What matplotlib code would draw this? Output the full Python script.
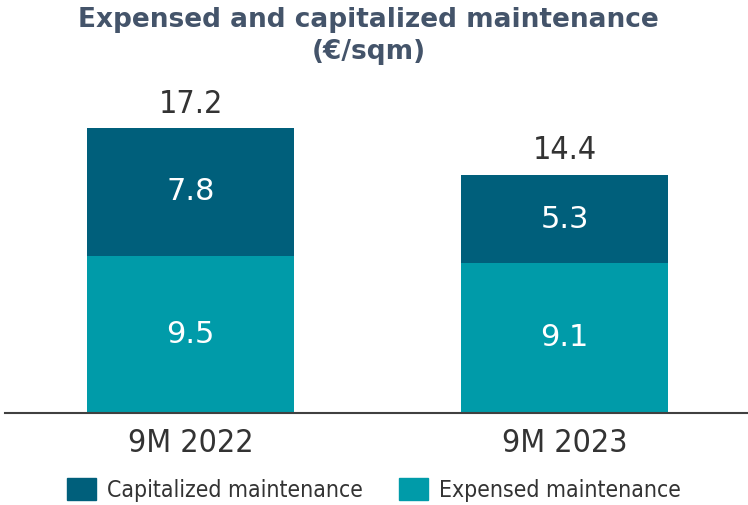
import matplotlib.pyplot as plt
from matplotlib.patches import Patch

periods = ["9M 2022", "9M 2023"]
expensed = [9.5, 9.1]
capitalized = [7.8, 5.3]
totals = [17.2, 14.4]

DARK = "#005F7B"
LIGHT = "#009BA9"
TITLE_C = "#44546A"
TEXT_C = "#333333"

fig = plt.figure(figsize=(7.48, 5.05), dpi=100)
ax = fig.add_axes([5 / 748, 0.1822, 743 / 748, 0.6594])

x = range(len(periods))
w = 0.553
ax.bar(x, expensed, width=w, color=LIGHT)
ax.bar(x, capitalized, width=w, bottom=expensed, color=DARK)

cond = dict(family="DejaVu Sans", fontstretch="condensed")
for i in x:
    ax.text(i, expensed[i] / 2, f"{expensed[i]:.1f}", ha="center", va="center",
            color="white", fontsize=22, family="DejaVu Sans")
    ax.text(i, expensed[i] + capitalized[i] / 2, f"{capitalized[i]:.1f}",
            ha="center", va="center", color="white", fontsize=22, family="DejaVu Sans")
    ax.text(i, totals[i] + 0.55, f"{totals[i]:.1f}", ha="center", va="bottom",
            color=TEXT_C, fontsize=23, **cond)

ax.set_xlim(-0.496, 1.4906)
ax.set_ylim(0, 20.18)
ax.set_xticks(list(x))
ax.set_xticklabels(periods, fontsize=23, color=TEXT_C, **cond)
ax.tick_params(axis="x", length=0, pad=11)
ax.set_yticks([])
for s in ["top", "right", "left"]:
    ax.spines[s].set_visible(False)
ax.spines["bottom"].set_color("#404040")
ax.spines["bottom"].set_linewidth(1.5)

fig.text(0.493, 0.960, "Expensed and capitalized maintenance",
         ha="center", va="center", fontsize=19, fontweight="bold", color=TITLE_C)
fig.text(0.493, 0.897, "(€/sqm)",
         ha="center", va="center", fontsize=19, fontweight="bold", color=TITLE_C)

handles = [Patch(color=DARK, label="Capitalized maintenance"),
           Patch(color=LIGHT, label="Expensed maintenance")]
leg = fig.legend(handles=handles, loc="center", bbox_to_anchor=(0.5, 0.030),
                 ncol=2, frameon=False, handlelength=1.27, handleheight=1.1,
                 handletextpad=0.45, columnspacing=1.6,
                 prop=dict(size=16.5, family="DejaVu Sans", stretch="condensed"))
for t in leg.get_texts():
    t.set_color(TEXT_C)

fig.savefig("out.png", dpi=100)
